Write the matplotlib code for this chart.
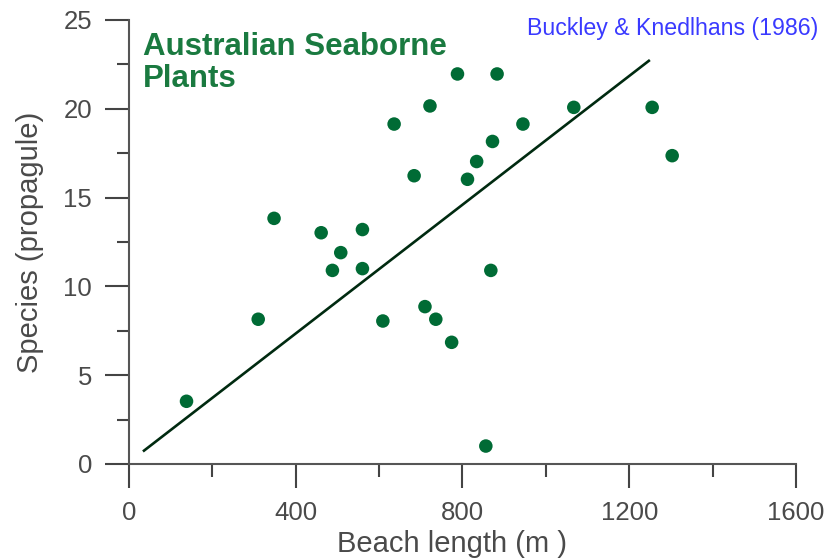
import numpy as np
import matplotlib.pyplot as plt
from matplotlib.ticker import MultipleLocator

plt.rcParams['font.family'] = ['Liberation Sans', 'DejaVu Sans']

beach_length = [138, 310, 348, 461, 488, 508, 560, 560, 636, 609, 684, 722, 710,
                736, 774, 788, 812, 834, 872, 883, 945, 868, 856, 1067, 1255, 1303]
species = [3.53, 8.15, 13.83, 13.02, 10.9, 11.9, 13.2, 11.0, 19.14, 8.05, 16.23,
           20.16, 8.86, 8.15, 6.85, 21.96, 16.03, 17.03, 18.16, 21.96, 19.14,
           10.9, 1.01, 20.08, 20.08, 17.36]
line_x = [36, 1247]
line_y = [0.75, 22.7]

fig = plt.figure(figsize=(8.37, 5.58), dpi=100)
ax = fig.add_axes([0.1541, 0.1685, 0.7969, 0.7957])

ax.plot(line_x, line_y, color='#002a10', lw=1.9, zorder=2)
ax.scatter(beach_length, species, s=95, color='#006b35', edgecolors='none', zorder=3)

ax.set_xlim(0, 1600)
ax.set_ylim(0, 25)
ax.xaxis.set_major_locator(MultipleLocator(400))
ax.xaxis.set_minor_locator(MultipleLocator(200))
ax.yaxis.set_major_locator(MultipleLocator(5))
ax.yaxis.set_minor_locator(MultipleLocator(2.5))

for s in ['top', 'right']:
    ax.spines[s].set_visible(False)
for s in ['left', 'bottom']:
    ax.spines[s].set_color('#555555')
    ax.spines[s].set_linewidth(1.5)

ax.tick_params(which='major', length=17.5, width=1.5, color='#444444',
               labelsize=18.5, labelcolor='#4a4a4a')
ax.tick_params(which='minor', length=9, width=1.5, color='#444444')
ax.tick_params(axis='x', which='major', pad=9)
ax.tick_params(axis='y', which='major', pad=9)

ax.set_xlabel('Beach length (m )', fontsize=21, color='#4a4a4a')
ax.xaxis.set_label_coords(0.485, -0.148)
ax.set_ylabel('Species (propagule)', fontsize=21, color='#4a4a4a', labelpad=14)

ax.text(0.021, 0.972, 'Australian Seaborne\nPlants', transform=ax.transAxes,
        fontsize=22.5, fontweight='bold', color='#1a7a40', va='top', ha='left',
        linespacing=1.05)
fig.text(0.6296, 0.937, 'Buckley & Knedlhans (1986)', fontsize=16.7,
         color='#3a3aff', ha='left', va='baseline')

fig.savefig('out.png', dpi=100)
